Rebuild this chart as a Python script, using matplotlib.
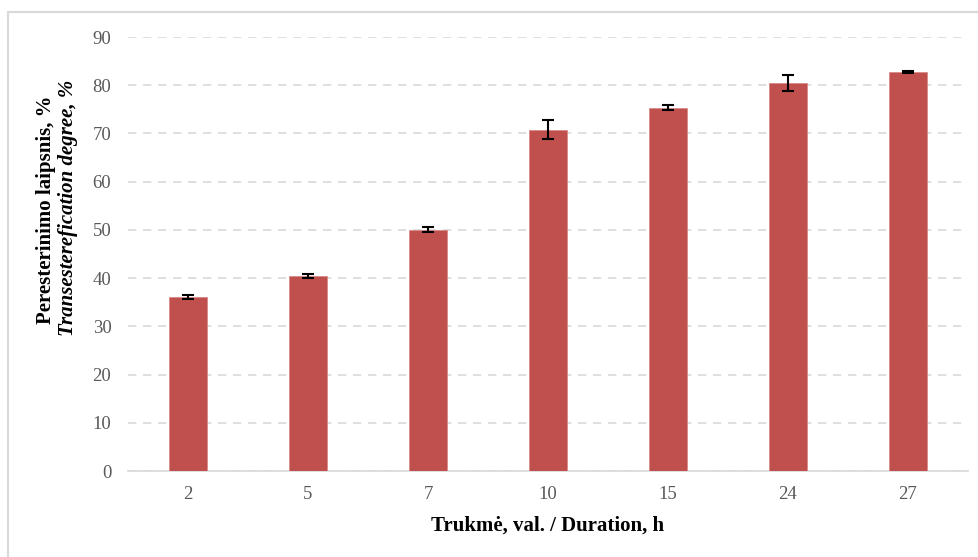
import matplotlib
matplotlib.use("Agg")
import matplotlib.pyplot as plt
from matplotlib.patches import Rectangle

durations = ["2", "5", "7", "10", "15", "24", "27"]
degree = [36.1, 40.4, 50.0, 70.8, 75.3, 80.5, 82.7]
degree_err = [0.4, 0.4, 0.5, 1.9, 0.5, 1.7, 0.2]
yticks = [0, 10, 20, 30, 40, 50, 60, 70, 80, 90]

plt.rcParams["font.family"] = ["Liberation Serif", "DejaVu Serif"]

fig = plt.figure(figsize=(9.79, 5.57), dpi=100)
fig.patches.append(Rectangle((8 / 979, -0.01), 1.02, 1 - 12 / 557 + 0.01,
                             transform=fig.transFigure, fill=False,
                             edgecolor="#d9d9d9", linewidth=1.5))
ax = fig.add_axes([128 / 979, 1 - 471 / 557, 840 / 979, (471 - 37) / 557])

x = range(len(durations))
ax.bar(x, degree, width=0.31, color="#c0504d", edgecolor="#d98a88",
       linewidth=0.6, zorder=3,
       yerr=degree_err, capsize=4,
       error_kw=dict(ecolor="black", elinewidth=1.5, capthick=1.5, zorder=4))

ax.set_xlim(-0.5, len(durations) - 0.5)
ax.set_ylim(0, 90)
ax.set_yticks(yticks)
ax.set_xticks(list(x))
ax.set_xticklabels(durations)
ax.tick_params(axis="both", length=0, labelsize=13.5, colors="#595959")
ax.tick_params(axis="y", pad=12)
ax.tick_params(axis="x", pad=11)
ax.yaxis.grid(True, linestyle=(0, (5, 4)), color="#d9d9d9", linewidth=1.2, zorder=0)
for side in ("top", "right", "left"):
    ax.spines[side].set_visible(False)
ax.spines["bottom"].set_color("#d9d9d9")
ax.spines["bottom"].set_linewidth(1.2)

ax.set_xlabel("Trukmė, val. / Duration, h", fontsize=15, fontweight="bold",
              labelpad=9)
fig.text(46 / 979, 1 - 210 / 557, "Peresterinimo laipsnis, %", rotation=90,
         ha="center", va="center", fontsize=15, fontweight="bold")
fig.text(68 / 979, 1 - 208 / 557, "Transesterefication degree, %", rotation=90,
         ha="center", va="center", fontsize=15, fontweight="bold", style="italic")

fig.savefig("out.png", dpi=100)
